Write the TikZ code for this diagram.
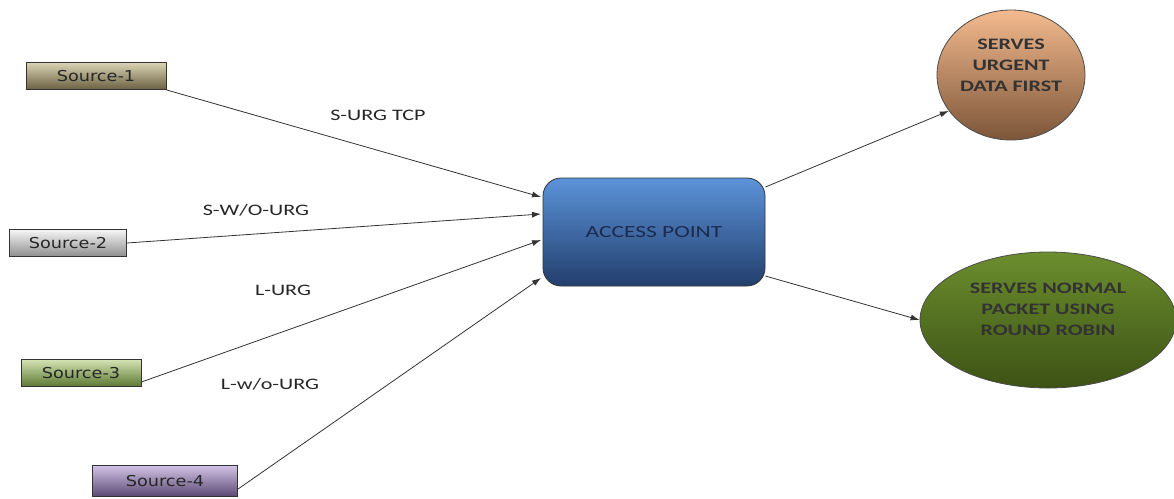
\documentclass[tikz,border=0pt]{standalone}
\usepackage{fontspec}
\setmainfont{Carlito}
\newfontfamily\srcfont[FakeStretch=1.18]{DejaVu Sans}
\newfontfamily\widefont[FakeStretch=1.38]{Carlito}
\usetikzlibrary{shapes.geometric,arrows.meta,shadings}
\definecolor{s1top}{HTML}{DAD3B4}
\definecolor{s1bot}{HTML}{6A6142}
\definecolor{s2top}{HTML}{F6F6F6}
\definecolor{s2bot}{HTML}{8E8E8E}
\definecolor{s3top}{HTML}{D4E4B4}
\definecolor{s3bot}{HTML}{5C7832}
\definecolor{s4top}{HTML}{D2C4E6}
\definecolor{s4bot}{HTML}{5A4872}
\definecolor{aptop}{HTML}{5C93DA}
\definecolor{apbot}{HTML}{223E6C}
\definecolor{aptext}{HTML}{1C2A4E}
\definecolor{urgtop}{HTML}{F3BA8E}
\definecolor{urgbot}{HTML}{7C5538}
\definecolor{rrtop}{HTML}{6C8E2E}
\definecolor{rrbot}{HTML}{3C5214}
\begin{document}
\begin{tikzpicture}[x=1pt,y=-1pt,
  srcbox/.style={draw=black!80, line width=0.8pt, minimum height=27pt, inner sep=0pt,
    font=\srcfont\fontsize{15}{17}\selectfont, text=black!85},
  flow/.style={draw=black!80, line width=0.8pt, -{Latex[length=9pt,width=6pt]}},
  lbl/.style={font=\widefont\fontsize{16}{18}\selectfont, text=black!85},
  servers/.style={ellipse, draw=black!70, line width=0.8pt, inner sep=0pt, align=center,
    font=\widefont\bfseries\fontsize{16}{21}\selectfont, text=black!80}]
\useasboundingbox (0,0) rectangle (1174,498);

% traffic sources
\node[srcbox, minimum width=140pt, top color=s1top, bottom color=s1bot] (s1) at (96,76) {Source-1};
\node[srcbox, minimum width=117pt, top color=s2top, bottom color=s2bot] (s2) at (68,243) {Source-2};
\node[srcbox, minimum width=120pt, top color=s3top, bottom color=s3bot] (s3) at (81,373) {Source-3};
\node[srcbox, minimum width=145pt, minimum height=31pt, top color=s4top, bottom color=s4bot] (s4) at (165,481) {Source-4};

% access point
\node[draw=black!80, line width=0.8pt, rounded corners=18pt, minimum width=222pt, minimum height=108pt,
  top color=aptop, bottom color=apbot,
  font=\widefont\fontsize{17}{19}\selectfont, text=aptext] (ap) at (654,232) {ACCESS POINT};

% service disciplines
\node[servers, minimum width=148pt, minimum height=130pt, top color=urgtop, bottom color=urgbot] (urg) at (1011,75) {SERVES\\URGENT\\DATA FIRST\\[-1pt]};
\node[servers, minimum width=256pt, minimum height=136pt, top color=rrtop, bottom color=rrbot] (rr) at (1048,320) {SERVES NORMAL\\PACKET USING\\ROUND ROBIN\\[0pt]};

% flows into the access point
\coordinate (a1) at (541,197);
\coordinate (a2) at (541,214);
\coordinate (a3) at (541,240);
\coordinate (a4) at (541,278);
\draw[flow] (s1.south east) -- (a1);
\draw[flow] (s2.east) -- (a2);
\draw[flow] (s3.east) ++(0,9) -- (a3);
\draw[flow] (s4.north east) ++(0,24) -- (a4);

% flows out to the servers
\draw[flow] (ap.east) ++(0,-45) -- (urg.210);
\draw[flow] (ap.east) ++(0,44) -- (rr.west);

% flow labels
\node[lbl] (l1) at (378,115) {S-URG TCP};
\node[lbl] (l2) at (256,210) {S-W/O-URG};
\node[lbl] (l3) at (283,290) {L-URG};
\node[lbl] (l4) at (270,384) {L-w/o-URG};
\end{tikzpicture}
\end{document}
